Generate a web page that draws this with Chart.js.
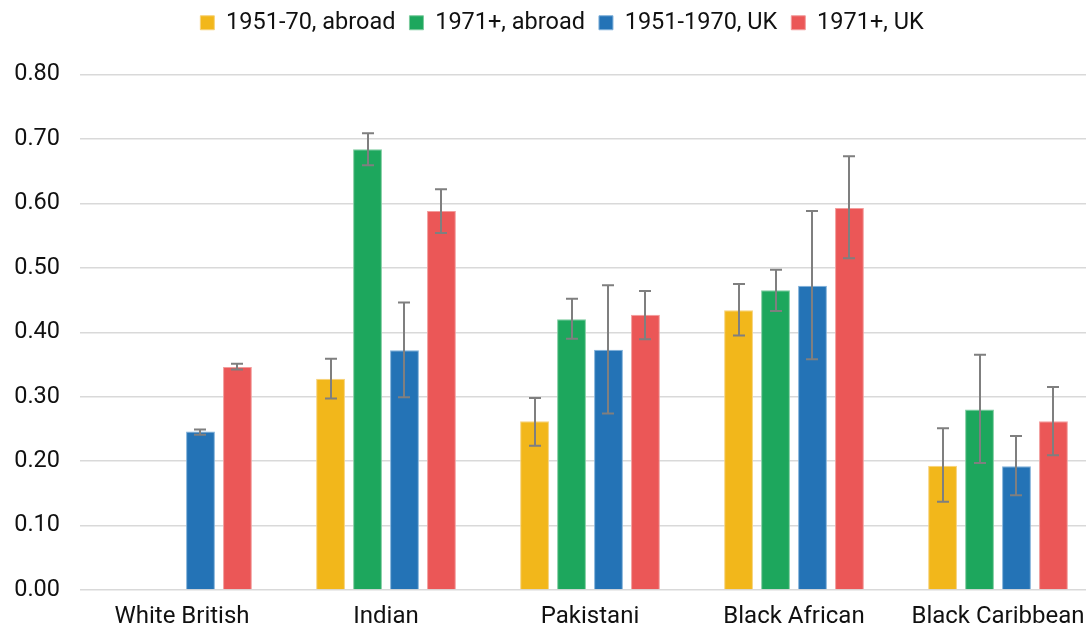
<!DOCTYPE html>
<html>
<head>
<meta charset="utf-8">
<script src="https://cdn.jsdelivr.net/npm/chart.js@4"></script>
<style>
    html, body { margin: 0; padding: 0; background: #fff; overflow: hidden; }
    #wrap { width: 1124px; height: 627px; position: relative; }
</style>
</head>
<body>
<div id="wrap"><canvas id="chart"></canvas></div>
<script>
// categories and series
const categories = ['White British', 'Indian', 'Pakistani', 'Black African', 'Black Caribbean'];
const seriesNames = ['1951-70, abroad', '1971+, abroad', '1951-1970, UK', '1971+, UK'];

const abroad5170 = [null, 0.328, 0.262, 0.434, 0.193];
const abroad71 = [null, 0.684, 0.420, 0.465, 0.280];
const uk5170 = [0.246, 0.372, 0.373, 0.472, 0.192];
const uk71 = [0.346, 0.588, 0.427, 0.593, 0.262];

// error bar ends (low, high)
const abroad5170Low = [null, 0.297, 0.224, 0.395, 0.137];
const abroad5170High = [null, 0.359, 0.298, 0.475, 0.251];
const abroad71Low = [null, 0.659, 0.390, 0.433, 0.197];
const abroad71High = [null, 0.709, 0.452, 0.497, 0.365];
const uk5170Low = [0.241, 0.299, 0.274, 0.358, 0.147];
const uk5170High = [0.249, 0.446, 0.473, 0.588, 0.239];
const uk71Low = [0.342, 0.554, 0.389, 0.515, 0.209];
const uk71High = [0.351, 0.622, 0.464, 0.673, 0.315];

const yTicks = [0, 0.1, 0.2, 0.3, 0.4, 0.5, 0.6, 0.7, 0.8];

const colors = ['#F2B71B', '#1DA75D', '#2473B6', '#EB5757'];
const borders = ['#F7D27A', '#7CCB9E', '#7FB0DA', '#F29C9C'];

const values = [abroad5170, abroad71, uk5170, uk71];
const lows = [abroad5170Low, abroad71Low, uk5170Low, uk71Low];
const highs = [abroad5170High, abroad71High, uk5170High, uk71High];

const FONT = 'Roboto';

const errorBars = {
    id: 'errorBars',
    afterDatasetsDraw(chart) {
        const ctx = chart.ctx;
        const y = chart.scales.y;
        ctx.save();
        ctx.strokeStyle = '#7F7F7F';
        ctx.lineWidth = 2;
        chart.data.datasets.forEach((ds, i) => {
            const meta = chart.getDatasetMeta(i);
            meta.data.forEach((bar, j) => {
                const lo = ds.errLow[j], hi = ds.errHigh[j];
                if (lo == null || hi == null) return;
                const x = Math.round(bar.x);
                const yl = y.getPixelForValue(lo);
                const yh = y.getPixelForValue(hi);
                ctx.beginPath();
                ctx.moveTo(x, yl); ctx.lineTo(x, yh);
                ctx.moveTo(x - 6, yl); ctx.lineTo(x + 6, yl);
                ctx.moveTo(x - 6, yh); ctx.lineTo(x + 6, yh);
                ctx.stroke();
            });
        });
        ctx.restore();
    }
};

// extra room below the legend, and pull the legend up a little
const legendGap = {
    id: 'legendGap',
    afterInit(chart) {
        const fit = chart.legend.fit;
        chart.legend.fit = function () {
            fit.call(this);
            this.height += 25;
        };
    },
    afterLayout(chart) {
        chart.legend.top -= 5;
        chart.legend.bottom -= 5;
    }
};

new Chart(document.getElementById('chart'), {
    type: 'bar',
    data: {
        labels: categories,
        datasets: seriesNames.map((name, i) => ({
            label: name,
            data: values[i],
            errLow: lows[i],
            errHigh: highs[i],
            backgroundColor: colors[i],
            borderColor: borders[i],
            borderWidth: 1,
            categoryPercentage: 0.725,
            barPercentage: 0.78
        }))
    },
    options: {
        responsive: true,
        maintainAspectRatio: false,
        animation: false,
        layout: { padding: { left: 0, right: 0, top: 2, bottom: 0 } },
        plugins: {
            legend: {
                position: 'top',
                labels: {
                    boxWidth: 14,
                    boxHeight: 14,
                    padding: 14,
                    color: '#111',
                    font: { family: FONT, size: 23.5 }
                }
            },
            tooltip: { enabled: false }
        },
        scales: {
            x: {
                grid: { display: false },
                border: { display: false },
                afterFit(scale) { scale.height = 37; },
                ticks: {
                    color: '#111',
                    padding: 5,
                    font: { family: FONT, size: 24 }
                }
            },
            y: {
                min: 0,
                max: 0.8,
                afterBuildTicks(axis) {
                    axis.ticks = yTicks.map(v => ({ value: v }));
                },
                afterFit(scale) { scale.width = 80; },
                grid: { color: '#D9D9D9', lineWidth: 1.5, drawTicks: false },
                border: { display: false },
                ticks: {
                    color: '#111',
                    padding: 20,
                    font: { family: FONT, size: 23.5 },
                    callback: v => v.toFixed(2)
                }
            },
            // empty strip on the right, the legend still spans the full width
            spacer: {
                type: 'linear',
                position: 'right',
                display: true,
                afterFit(scale) { scale.width = 24; },
                grid: { display: false },
                border: { display: false },
                ticks: { display: false }
            }
        }
    },
    plugins: [errorBars, legendGap]
});
</script>
</body>
</html>
